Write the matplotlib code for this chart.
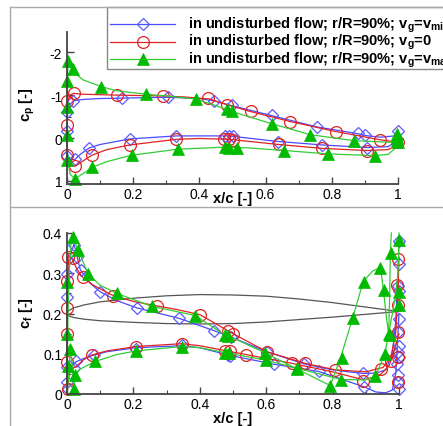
import matplotlib
matplotlib.use('Agg')
import matplotlib.pyplot as plt
from matplotlib.lines import Line2D
from matplotlib.patches import Rectangle
from matplotlib.ticker import MultipleLocator, FuncFormatter

plt.rcParams['font.family'] = ['Liberation Sans', 'DejaVu Sans']
plt.rcParams['mathtext.fontset'] = 'custom'
plt.rcParams['mathtext.rm'] = 'Liberation Sans:bold'
plt.rcParams['mathtext.it'] = 'Liberation Sans:bold'
plt.rcParams['mathtext.bf'] = 'Liberation Sans:bold'
plt.rcParams['mathtext.default'] = 'bf'
plt.rcParams['axes.unicode_minus'] = False

# legend labels
labels = [r'in undisturbed flow; r/R=90%; v$_g$=v$_{min}$',
          r'in undisturbed flow; r/R=90%; v$_g$=0',
          r'in undisturbed flow; r/R=90%; v$_g$=v$_{max}$']

# ---- pressure coefficient (top), curve goes TE upper -> LE -> TE lower ----
cp_blue_x = [1.0, 0.99, 0.946, 0.9, 0.88, 0.754, 0.62, 0.49, 0.442, 0.4, 0.305, 0.165, 0.1, 0.05, 0.021, 0.008,
             0.002, 0.0, 0.0, 0.003, 0.012, 0.024, 0.04, 0.067, 0.1, 0.19, 0.33, 0.48, 0.5, 0.638, 0.77, 0.905,
             0.97, 1.0]
cp_blue_y = [-0.17, -0.05, -0.02, -0.06, -0.1, -0.26, -0.52, -0.77, -0.87, -0.92, -0.95, -0.93, -0.92, -0.9,
             -0.87, -0.78, -0.6, -0.15, 0.25, 0.42, 0.5, 0.5, 0.38, 0.23, 0.15, 0.02, -0.05, -0.05, -0.04, 0.08,
             0.16, 0.22, 0.2, 0.05]
cp_blue_mx = [0.0, 0.0, 0.019, 0.165, 0.305, 0.444, 0.497, 0.62, 0.754, 0.88, 0.9, 1.0,
              0.0, 0.024, 0.067, 0.19, 0.33, 0.477, 0.49, 0.5, 0.638, 0.77, 0.905]
cp_blue_my = [-0.17, -0.6, -0.87, -0.93, -0.96, -0.87, -0.77, -0.53, -0.26, -0.11, -0.06, -0.17,
              0.41, 0.49, 0.23, 0.02, -0.05, -0.05, -0.05, -0.04, 0.1, 0.17, 0.23]

cp_red_x = [1.0, 0.946, 0.813, 0.677, 0.553, 0.486, 0.43, 0.35, 0.289, 0.15, 0.05, 0.02, 0.008, 0.002, 0.0,
            0.0, 0.008, 0.024, 0.045, 0.075, 0.12, 0.19, 0.33, 0.4, 0.49, 0.64, 0.77, 0.905, 0.97, 0.995, 1.0]
cp_red_y = [0.1, 0.04, -0.15, -0.38, -0.62, -0.77, -0.91, -0.96, -0.98, -1.0, -1.02, -1.04, -1.0, -0.85, -0.3,
            0.4, 0.6, 0.66, 0.55, 0.4, 0.27, 0.16, 0.03, 0.01, 0.03, 0.15, 0.24, 0.29, 0.27, 0.18, 0.1]
cp_red_mx = [0.0, 0.001, 0.02, 0.15, 0.289, 0.427, 0.484, 0.555, 0.675, 0.813, 0.946, 1.0,
             0.0, 0.024, 0.075, 0.19, 0.33, 0.475, 0.49, 0.503, 0.64, 0.77, 0.905]
cp_red_my = [-0.3, -0.87, -1.05, -1.0, -0.98, -0.93, -0.77, -0.62, -0.37, -0.15, 0.04, 0.1,
             0.4, 0.66, 0.4, 0.16, 0.02, 0.02, 0.02, 0.05, 0.15, 0.23, 0.29]

cp_green_x = [1.0, 0.95, 0.866, 0.734, 0.62, 0.497, 0.482, 0.389, 0.3, 0.24, 0.15, 0.103, 0.05, 0.025, 0.012,
              0.005, 0.001, 0.0, 0.0, 0.01, 0.024, 0.05, 0.077, 0.12, 0.195, 0.334, 0.48, 0.55, 0.657, 0.79,
              0.93, 0.97, 0.99, 1.0]
cp_green_y = [0.1, 0.09, 0.06, -0.08, -0.33, -0.62, -0.67, -0.91, -0.98, -1.02, -1.1, -1.2, -1.35, -1.5, -1.7,
              -1.8, -1.5, -0.5, 0.45, 0.85, 0.95, 0.82, 0.68, 0.55, 0.4, 0.26, 0.21, 0.23, 0.29, 0.37, 0.41,
              0.38, 0.25, 0.1]
cp_green_mx = [0.004, 0.019, 0.0, 0.0, 0.0, 0.103, 0.24, 0.389, 0.482, 0.497, 0.62, 0.734, 0.866,
               0.997, 0.997, 0.997, 1.0,
               0.0, 0.024, 0.077, 0.195, 0.334, 0.477, 0.49, 0.514, 0.657, 0.79, 0.93]
cp_green_my = [-1.8, -1.6, -1.33, -0.73, -0.07, -1.2, -1.02, -0.91, -0.67, -0.62, -0.33, -0.08, 0.06,
               -0.1, -0.02, 0.05, 0.1,
               0.5, 0.95, 0.68, 0.4, 0.26, 0.2, 0.22, 0.23, 0.29, 0.37, 0.41]

# ---- skin friction coefficient (bottom) ----
cf_blue_up_x = [0.0, 0.0, 0.002, 0.005, 0.012, 0.021, 0.04, 0.07, 0.1, 0.15, 0.21, 0.338, 0.444, 0.495, 0.602,
                0.713, 0.8, 0.891, 0.93, 0.96, 0.98, 0.99, 0.997, 1.0]
cf_blue_up_y = [0.0, 0.15, 0.24, 0.3, 0.35, 0.373, 0.309, 0.275, 0.254, 0.232, 0.214, 0.188, 0.157, 0.141,
                0.105, 0.075, 0.06, 0.051, 0.052, 0.06, 0.1, 0.18, 0.3, 0.38]
cf_blue_lo_x = [0.0, 0.003, 0.008, 0.015, 0.027, 0.05, 0.074, 0.12, 0.207, 0.346, 0.4, 0.485, 0.623, 0.758,
                0.894, 0.93, 0.96, 0.98, 0.99, 0.995, 1.0]
cf_blue_lo_y = [0.0, 0.03, 0.06, 0.07, 0.08, 0.088, 0.095, 0.105, 0.115, 0.12, 0.115, 0.097, 0.074, 0.056,
                0.018, 0.005, 0.003, 0.01, 0.05, 0.12, 0.2]
cf_blue_mx = [0.0, 0.0, 0.021, 0.03, 0.042, 0.1, 0.21, 0.336, 0.444, 0.495, 0.602, 0.713, 0.891,
              0.0, 0.0, 0.003, 0.02, 0.027, 0.08, 0.208, 0.346, 0.485, 0.49, 0.623, 0.758, 0.894,
              1.0, 0.999, 0.998, 1.0, 0.999, 0.998, 1.0, 0.997, 0.999, 0.995, 0.998, 0.996, 1.0]
cf_blue_my = [0.299, 0.241, 0.369, 0.34, 0.307, 0.253, 0.214, 0.19, 0.157, 0.141, 0.105, 0.075, 0.051,
              0.067, 0.03, 0.012, 0.065, 0.081, 0.096, 0.113, 0.121, 0.097, 0.094, 0.074, 0.056, 0.018,
              0.381, 0.323, 0.269, 0.257, 0.186, 0.153, 0.12, 0.104, 0.093, 0.075, 0.046, 0.03, 0.012]

cf_red_up_x = [0.0, 0.0, 0.002, 0.006, 0.015, 0.03, 0.047, 0.08, 0.135, 0.2, 0.27, 0.33, 0.401, 0.485, 0.5,
               0.602, 0.718, 0.808, 0.9, 0.952, 0.975, 0.99, 0.997, 1.0]
cf_red_up_y = [0.0, 0.21, 0.3, 0.343, 0.335, 0.31, 0.29, 0.27, 0.246, 0.23, 0.219, 0.21, 0.197, 0.157, 0.15,
               0.105, 0.076, 0.06, 0.055, 0.066, 0.09, 0.15, 0.25, 0.34]
cf_red_lo_x = [0.0, 0.002, 0.006, 0.015, 0.03, 0.05, 0.075, 0.12, 0.208, 0.346, 0.4, 0.475, 0.54, 0.678, 0.8,
               0.894, 0.94, 0.97, 0.99, 1.0]
cf_red_lo_y = [0.0, 0.02, 0.05, 0.062, 0.07, 0.085, 0.097, 0.107, 0.118, 0.125, 0.12, 0.108, 0.098, 0.076,
               0.055, 0.035, 0.045, 0.07, 0.12, 0.15]
cf_red_mx = [0.0, 0.0, 0.004, 0.019, 0.049, 0.138, 0.27, 0.401, 0.485, 0.5, 0.602, 0.718, 0.808, 0.946,
             0.0, 0.0, 0.003, 0.075, 0.208, 0.346, 0.475, 0.49, 0.54, 0.678, 0.892, 0.975,
             0.997, 0.995, 0.996, 0.998, 0.998, 0.996]
cf_red_my = [0.214, 0.28, 0.34, 0.339, 0.29, 0.243, 0.218, 0.197, 0.157, 0.15, 0.105, 0.076, 0.06, 0.063,
             0.15, 0.08, 0.013, 0.096, 0.118, 0.125, 0.108, 0.106, 0.098, 0.076, 0.032, 0.082,
             0.336, 0.27, 0.22, 0.154, 0.092, 0.03]

cf_green_up_x = [0.0, 0.003, 0.008, 0.014, 0.032, 0.064, 0.1, 0.15, 0.255, 0.386, 0.475, 0.485, 0.597, 0.693,
                 0.793, 0.823, 0.862, 0.892, 0.92, 0.944, 0.954, 0.962, 0.969, 0.972, 0.974, 0.977]
cf_green_up_y = [0.0, 0.2, 0.33, 0.395, 0.36, 0.298, 0.27, 0.25, 0.218, 0.195, 0.147, 0.145, 0.102, 0.062,
                 0.021, 0.087, 0.193, 0.279, 0.305, 0.315, 0.253, 0.19, 0.149, 0.25, 0.352, 0.4]
cf_green_lo_x = [0.0, 0.005, 0.01, 0.015, 0.02, 0.024, 0.04, 0.085, 0.15, 0.208, 0.346, 0.4, 0.482, 0.6, 0.693,
                 0.826, 0.9, 0.93, 0.957, 0.969, 0.98, 0.99, 0.997, 1.0]
cf_green_lo_y = [0.0, 0.05, 0.11, 0.08, 0.015, 0.046, 0.062, 0.081, 0.098, 0.107, 0.118, 0.115, 0.102, 0.084,
                 0.064, 0.036, 0.035, 0.045, 0.1, 0.15, 0.2, 0.25, 0.3, 0.4]
cf_green_mx = [0.019, 0.034, 0.064, 0.15, 0.256, 0.386, 0.475, 0.485, 0.597, 0.693, 0.791, 0.829, 0.862,
               0.894, 0.944, 0.955, 0.974, 0.977,
               0.0, 0.0, 0.002, 0.009, 0.02, 0.024, 0.085, 0.208, 0.346, 0.477, 0.487, 0.6, 0.693, 0.826,
               0.929, 0.959, 0.969, 1.0, 0.999, 0.999]
cf_green_my = [0.39, 0.358, 0.299, 0.251, 0.218, 0.195, 0.147, 0.145, 0.102, 0.062, 0.019, 0.09, 0.19,
               0.278, 0.314, 0.258, 0.147, 0.35,
               0.278, 0.15, 0.07, 0.113, 0.013, 0.046, 0.081, 0.107, 0.118, 0.102, 0.101, 0.084, 0.064,
               0.036, 0.045, 0.1, 0.15, 0.383, 0.253, 0.22]

# airfoil outline drawn in the cf plot
foil_x = [0.0, 0.005, 0.02, 0.05, 0.1, 0.2, 0.3, 0.4, 0.5, 0.6, 0.7, 0.8, 0.9, 1.0]
foil_up = [0.2, 0.207, 0.214, 0.221, 0.229, 0.238, 0.244, 0.247, 0.246, 0.243, 0.236, 0.227, 0.216, 0.205]
foil_lo = [0.2, 0.194, 0.19, 0.186, 0.182, 0.178, 0.175, 0.174, 0.175, 0.179, 0.185, 0.191, 0.198, 0.205]

styles = [dict(color='#4a4aff', marker='D', ms=6, mfc='none', mec='#5a5aff', mew=0.9),
          dict(color='#e02222', marker='o', ms=8.5, mfc='none', mec='#e02222', mew=0.9),
          dict(color='#33cc33', marker='^', ms=8, mfc='#00bb00', mec='#00bb00', mew=0.5)]

W, H = 443, 427
fig = plt.figure(figsize=(W / 100, H / 100), dpi=100)


def px(x, y):
    return x / W, 1 - y / H


def style_axis(ax):
    for s in ['top', 'right']:
        ax.spines[s].set_visible(False)
    for s in ['left', 'bottom']:
        ax.spines[s].set_color('#444444')
        ax.spines[s].set_linewidth(1.3)
    ax.tick_params(which='both', direction='in', colors='#444444', labelcolor='black', labelsize=10)
    ax.tick_params(which='major', length=5, width=1)
    ax.tick_params(which='minor', length=3, width=0.8)
    ax.tick_params(axis='x', which='both', pad=2)
    ax.xaxis.set_major_locator(MultipleLocator(0.2))
    ax.xaxis.set_minor_locator(MultipleLocator(0.1))
    ax.xaxis.set_major_formatter(FuncFormatter(lambda v, p: '%g' % round(v, 3)))
    ax.yaxis.set_major_formatter(FuncFormatter(lambda v, p: '%g' % round(v, 3)))
    ax.set_facecolor('none')
    ax.set_xlim(0, 1)


def draw(ax, lines, mx, my, st):
    for lx, ly in lines:
        ax.plot(lx, ly, color=st['color'], lw=0.9, clip_on=False)
    ax.plot(mx, my, ls='none', marker=st['marker'], ms=st['ms'], mfc=st['mfc'], mec=st['mec'],
            mew=st['mew'], clip_on=False)


# top panel: cp
l, b = px(67, 185)
ax1 = fig.add_axes([l, b, 331 / W, 152 / H])
style_axis(ax1)
ax1.set_ylim(1.07, -2.47)
ax1.yaxis.set_major_locator(MultipleLocator(1))
ax1.yaxis.set_minor_locator(MultipleLocator(0.5))
draw(ax1, [(cp_blue_x, cp_blue_y)], cp_blue_mx, cp_blue_my, styles[0])
draw(ax1, [(cp_red_x, cp_red_y)], cp_red_mx, cp_red_my, styles[1])
draw(ax1, [(cp_green_x, cp_green_y)], cp_green_mx, cp_green_my, styles[2])
ax1.set_xlabel('x/c [-]', fontsize=10.5, fontweight='bold')
ax1.xaxis.set_label_coords(0.5, -7 / 152)
ax1.set_ylabel(r'c$_p$ [-]', fontsize=10.5, fontweight='bold')
ax1.yaxis.set_label_coords(-30 / 331, 0.53)

# bottom panel: cf
l, b = px(67, 395)
ax2 = fig.add_axes([l, b, 332 / W, 161 / H])
style_axis(ax2)
ax2.set_ylim(0, 0.4)
ax2.yaxis.set_major_locator(MultipleLocator(0.1))
ax2.yaxis.set_minor_locator(MultipleLocator(0.05))
ax2.plot(foil_x, foil_up, color='#555555', lw=0.9)
ax2.plot(foil_x, foil_lo, color='#555555', lw=0.9)
draw(ax2, [(cf_blue_up_x, cf_blue_up_y), (cf_blue_lo_x, cf_blue_lo_y)], cf_blue_mx, cf_blue_my, styles[0])
draw(ax2, [(cf_red_up_x, cf_red_up_y), (cf_red_lo_x, cf_red_lo_y)], cf_red_mx, cf_red_my, styles[1])
draw(ax2, [(cf_green_up_x, cf_green_up_y), (cf_green_lo_x, cf_green_lo_y)], cf_green_mx, cf_green_my, styles[2])
ax2.set_xlabel('x/c [-]', fontsize=10.5, fontweight='bold')
ax2.xaxis.set_label_coords(0.5, -17 / 161)
ax2.set_ylabel(r'c$_f$ [-]', fontsize=10.5, fontweight='bold')
ax2.yaxis.set_label_coords(-32 / 332, 0.51)

# frame lines around the panels
frame = '#aaaaaa'
fig.add_artist(Line2D([10 / W, 10 / W], [1 - 8 / H, 0], color=frame, lw=1, transform=fig.transFigure))
fig.add_artist(Line2D([10 / W, 1], [1 - 8 / H, 1 - 8 / H], color=frame, lw=1, transform=fig.transFigure))
fig.add_artist(Line2D([10 / W, 1], [1 - 208 / H, 1 - 208 / H], color=frame, lw=1, transform=fig.transFigure))

# legend box (runs off the right edge like the original)
fig.add_artist(Rectangle(px(107, 70), 1, 62 / H, transform=fig.transFigure, facecolor='white',
                         edgecolor='#888888', lw=1))
for i, (lab, st) in enumerate(zip(labels, styles)):
    yy = 1 - [25, 42.5, 60][i] / H
    fig.add_artist(Line2D([110 / W, 175 / W], [yy, yy], color=st['color'], lw=0.9, transform=fig.transFigure))
    fig.add_artist(Line2D([142.5 / W], [yy], ls='none', marker=st['marker'], ms=st['ms'], mfc=st['mfc'],
                          mec=st['mec'], mew=st['mew'], transform=fig.transFigure))
    fig.text(188 / W, yy, lab, fontsize=10.5, fontweight='bold', va='center', ha='left')

fig.savefig('out.png', dpi=100)
